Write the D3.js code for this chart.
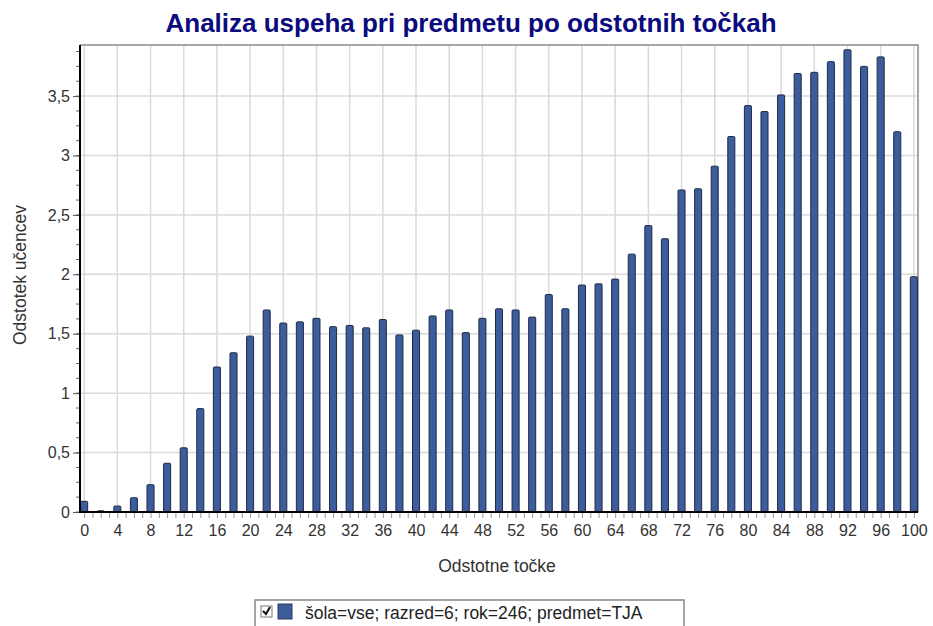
<!DOCTYPE html>
<html>
<head>
<meta charset="utf-8">
<title>Analiza uspeha</title>
<script src="https://d3js.org/d3.v7.min.js"></script>
<style>
  body { margin: 0; background: #fff; }
  text { font-family: "Liberation Sans", Arial, sans-serif; }
</style>
</head>
<body>
<div id="chart"></div>
<script>

// odstotne tocke (x) in odstotek ucencev (y)
var tocke = [0, 2, 4, 6, 8, 10, 12, 14, 16, 18, 20, 22, 24, 26, 28, 30, 32, 34, 36, 38, 40,
             42, 44, 46, 48, 50, 52, 54, 56, 58, 60, 62, 64, 66, 68, 70, 72, 74, 76, 78, 80,
             82, 84, 86, 88, 90, 92, 94, 96, 98, 100];
var odstotek = [0.09, 0.01, 0.05, 0.12, 0.23, 0.41, 0.54, 0.87, 1.22, 1.34, 1.48, 1.70, 1.59, 1.60, 1.63, 1.56, 1.57, 1.55, 1.62, 1.49, 1.53,
                1.65, 1.70, 1.51, 1.63, 1.71, 1.70, 1.64, 1.83, 1.71, 1.91, 1.92, 1.96, 2.17, 2.41, 2.30, 2.71, 2.72, 2.91, 3.16, 3.42,
                3.37, 3.51, 3.69, 3.70, 3.79, 3.89, 3.75, 3.83, 3.20, 1.98];

var xTicks = [0, 4, 8, 12, 16, 20, 24, 28, 32, 36, 40, 44, 48, 52, 56, 60, 64, 68, 72, 76, 80, 84, 88, 92, 96, 100];
var yTicks = [0, 0.5, 1, 1.5, 2, 2.5, 3, 3.5];
var yLabels = ["0", "0,5", "1", "1,5", "2", "2,5", "3", "3,5"];
var legendText = "šola=vse; razred=6; rok=246; predmet=TJA";

var W = 933, H = 626;
var mLeft = 80, mRight = 918, mTop = 45, mBottom = 512;

var svg = d3.select("#chart").append("svg")
    .attr("width", W)
    .attr("height", H);

var x = d3.scaleLinear().domain([-0.5, 100.5]).range([mLeft, mRight]);
var y = d3.scaleLinear().domain([0, 3.93]).range([mBottom, mTop]);

// title
svg.append("text")
    .attr("x", 471).attr("y", 32)
    .attr("text-anchor", "middle")
    .attr("font-size", 26).attr("font-weight", "bold")
    .attr("fill", "#0b0b7e")
    .text("Analiza uspeha pri predmetu po odstotnih točkah");

// grid
svg.append("g").selectAll("line").data(xTicks).enter().append("line")
    .attr("x1", function(d) { return x(d); }).attr("x2", function(d) { return x(d); })
    .attr("y1", mTop).attr("y2", mBottom)
    .attr("stroke", "#dadada").attr("stroke-width", 1.5);
svg.append("g").selectAll("line").data(yTicks.slice(1)).enter().append("line")
    .attr("x1", mLeft).attr("x2", mRight)
    .attr("y1", function(d) { return y(d); }).attr("y2", function(d) { return y(d); })
    .attr("stroke", "#dadada").attr("stroke-width", 1.5);

// top and right border
svg.append("path")
    .attr("d", "M" + mLeft + "," + mTop + "H" + mRight + "V" + mBottom)
    .attr("fill", "none").attr("stroke", "#8a8a8a").attr("stroke-width", 1.5);

// bars
var bw = 0.85 * (x(1) - x(0));
svg.append("g").selectAll("rect").data(tocke).enter().append("rect")
    .attr("x", function(d) { return x(d) - bw / 2; })
    .attr("y", function(d, i) { return y(odstotek[i]); })
    .attr("width", bw)
    .attr("height", function(d, i) { return mBottom - y(odstotek[i]); })
    .attr("rx", 1)
    .attr("fill", "#3d5c9c")
    .attr("stroke", "#1e2a44").attr("stroke-width", 1);

// y axis
var minor = d3.range(0, 3.93, 0.125);
svg.append("g").selectAll("line").data(minor).enter().append("line")
    .attr("x1", mLeft - 4).attr("x2", mLeft)
    .attr("y1", function(d) { return y(d); }).attr("y2", function(d) { return y(d); })
    .attr("stroke", "#666");
var yAxis = svg.append("g")
    .attr("transform", "translate(" + mLeft + ",0)")
    .call(d3.axisLeft(y).tickValues(yTicks).tickSize(7).tickPadding(3)
        .tickFormat(function(d, i) { return yLabels[i]; }));
yAxis.select(".domain").remove();
yAxis.selectAll(".tick line").attr("stroke", "#555");
yAxis.selectAll("text").attr("font-size", 16).attr("fill", "#333")
    .style("font-family", "'Liberation Sans', Arial, sans-serif");

// x axis
var xAxis = svg.append("g")
    .attr("transform", "translate(0," + mBottom + ")")
    .call(d3.axisBottom(x).tickValues(d3.range(0, 101, 1)).tickSize(6).tickPadding(7)
        .tickFormat(function(d) { return xTicks.indexOf(d) >= 0 ? d : ""; }));
xAxis.select(".domain").remove();
xAxis.selectAll(".tick line").attr("stroke", "#999");
xAxis.selectAll("text").attr("font-size", 16).attr("fill", "#333")
    .style("font-family", "'Liberation Sans', Arial, sans-serif");

// axis lines
svg.append("path")
    .attr("d", "M" + mLeft + "," + mTop + "V" + mBottom + "H" + mRight)
    .attr("fill", "none").attr("stroke", "#000").attr("stroke-width", 2);

// axis titles
svg.append("text")
    .attr("transform", "translate(26,275) rotate(-90)")
    .attr("text-anchor", "middle")
    .attr("font-size", 17.5).attr("fill", "#333")
    .text("Odstotek učencev");
svg.append("text")
    .attr("x", 497).attr("y", 572)
    .attr("text-anchor", "middle")
    .attr("font-size", 17.5).attr("fill", "#333")
    .text("Odstotne točke");

// legend
var lg = svg.append("g");
lg.append("rect")
    .attr("x", 255).attr("y", 600).attr("width", 429).attr("height", 40)
    .attr("fill", "#fff").attr("stroke", "#888").attr("stroke-width", 1.5);
lg.append("rect")
    .attr("x", 261).attr("y", 606).attr("width", 11).attr("height", 11)
    .attr("fill", "#fff").attr("stroke", "#777");
lg.append("path")
    .attr("d", "M263,611 L266,614 L270,607")
    .attr("fill", "none").attr("stroke", "#111").attr("stroke-width", 2);
lg.append("rect")
    .attr("x", 278).attr("y", 604).attr("width", 14).attr("height", 15)
    .attr("fill", "#3d5c9c").attr("stroke", "#2a3b5e");
lg.append("text")
    .attr("x", 305).attr("y", 619)
    .attr("font-size", 17.5).attr("fill", "#222")
    .text(legendText);

</script>
</body>
</html>
